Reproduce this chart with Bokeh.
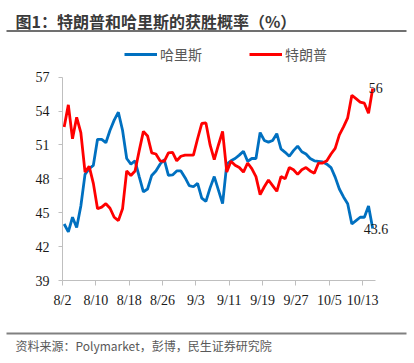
from bokeh.plotting import figure
from bokeh.models import Label, FixedTicker, Range1d, ColumnDataSource, Legend, LegendItem
from bokeh.layouts import column
from bokeh.core.properties import value
from bokeh.embed import file_html
from bokeh.resources import INLINE
import pandas as pd

# ---------------- data ----------------
dates = pd.date_range("2024-08-02", "2024-10-15", freq="D")

harris = [44.0, 43.3, 44.6, 43.7, 45.6, 48.4, 48.9, 49.2, 51.5, 51.5,
          51.2, 52.3, 53.2, 53.9, 52.3, 49.8, 49.3, 49.6, 48.2, 46.85,
          47.1, 48.3, 48.7, 49.3, 49.7, 48.3, 48.35, 48.7, 48.7, 48.1,
          47.4, 47.3, 47.6, 46.3, 46.0, 47.2, 48.2, 47.0, 45.8, 49.3,
          49.6, 49.8, 50.1, 50.45, 49.55, 49.8, 49.8, 52.1, 51.4, 51.25,
          51.4, 52.0, 50.65, 50.35, 50.0, 50.5, 50.9, 50.4, 50.2, 49.8,
          49.6, 49.55, 49.5, 49.3, 49.0, 48.15, 47.1, 46.4, 45.8, 44.0,
          44.3, 44.6, 44.6, 45.6, 43.6]

trump = [52.6, 54.55, 51.55, 53.45, 52.1, 48.6, 49.1, 47.6, 45.35, 45.5,
         45.8, 45.4, 44.6, 44.3, 45.35, 48.7, 48.3, 48.7, 50.5, 52.2,
         51.8, 50.3, 50.2, 49.6, 49.55, 50.3, 50.35, 49.6, 50.0, 50.1,
         50.1, 50.1, 51.55, 52.9, 52.95, 51.0, 49.7, 51.0, 52.2, 48.6,
         49.55, 49.2, 49.0, 48.6, 49.4, 48.9, 48.2, 46.6, 47.3, 47.9,
         47.4, 46.9, 48.2, 48.0, 49.0, 48.8, 48.4, 48.8, 49.0, 48.7,
         48.5, 49.4, 49.4, 49.6, 50.2, 50.7, 51.9, 52.6, 53.4, 55.4,
         55.1, 54.8, 54.7, 53.8, 56.0]

series_names = ["哈里斯", "特朗普"]
y_ticks = [39, 42, 45, 48, 51, 54, 57]
x_tick_step = 8
x_axis_days = 75          # axis runs 8/2 .. 10/17
title_text = "图1：特朗普和哈里斯的获胜概率（%）"
source_text = "资料来源：Polymarket，彭博，民生证券研究院"

# ---------------- style ----------------
BLUE = "#0070C0"
RED = "#FF0000"
GREY_TXT = "#595959"
SERIF = "Liberation Serif"
CJK = "Noto Sans CJK SC"
W = 414

PX_PER_DAY = 312.7 / 75
PX_PER_UNIT = 203.3 / 18


def deco_fig(h):
    f = figure(width=W, height=h, output_backend="svg", toolbar_location=None,
               x_range=Range1d(0, W), y_range=Range1d(h, 0),
               x_axis_type=None, y_axis_type=None,
               min_border_left=0, min_border_right=0,
               min_border_top=0, min_border_bottom=0)
    f.frame_align = False
    f.outline_line_color = None
    f.xgrid.visible = False
    f.ygrid.visible = False
    f.background_fill_color = "white"
    f.border_fill_color = "white"
    return f


# ---------------- header ----------------
HH = 38
head = deco_fig(HH)
head.text(x=[15], y=[20], text=[title_text], text_font=value(CJK),
          text_font_style="bold", text_font_size="16px", text_color="#3a3a3a",
          text_baseline="middle", text_align="left")
head.segment(x0=[6], y0=[30.5], x1=[406], y1=[30.5], line_color="#707070", line_width=2)

# ---------------- main chart ----------------
MH = 285
BL, BR, BT, BB = 62, 6, 0, 43
frame_w = W - BL - BR
frame_h = MH - BT - BB

day = [(d - dates[0]).days + 0.4 for d in dates]
src = ColumnDataSource(dict(x=day, harris=harris, trump=trump))

p = figure(width=W, height=MH, output_backend="svg", toolbar_location=None,
           x_range=Range1d(0, frame_w / PX_PER_DAY),
           y_range=Range1d(y_ticks[0], y_ticks[0] + frame_h / PX_PER_UNIT),
           min_border_left=BL, min_border_right=BR,
           min_border_top=BT, min_border_bottom=BB)
p.frame_align = False
p.background_fill_color = "white"
p.border_fill_color = "white"
p.outline_line_color = None
p.xgrid.visible = False
p.ygrid.visible = False

r_h = p.line("x", "harris", source=src, color=BLUE, line_width=2.8)
r_t = p.line("x", "trump", source=src, color=RED, line_width=2.8)

tick_pos = list(range(0, len(dates), x_tick_step))
p.xaxis.ticker = FixedTicker(ticks=tick_pos)
p.xaxis.major_label_overrides = {t: f"{dates[t].month}/{dates[t].day}" for t in tick_pos}
p.xaxis.bounds = (0, x_axis_days)
p.yaxis.ticker = FixedTicker(ticks=y_ticks)
p.yaxis.bounds = (y_ticks[0], y_ticks[-1])
for ax in (p.xaxis, p.yaxis):
    ax.axis_line_color = "#BFBFBF"
    ax.major_tick_line_color = "#BFBFBF"
    ax.minor_tick_line_color = None
    ax.major_tick_in = 0
    ax.major_label_text_font = SERIF
    ax.major_label_text_font_size = "14px"
    ax.major_label_text_color = "#1a1a1a"
p.xaxis.major_tick_out = 5
p.yaxis.major_tick_out = 4
p.xaxis.major_label_standoff = 7
p.yaxis.major_label_standoff = 9

# end-value labels
p.add_layout(Label(x=day[-1], y=trump[-1], text=f"{trump[-1]:g}", x_offset=-4,
                   text_baseline="middle", text_font=SERIF, text_font_size="14px",
                   text_color="#1a1a1a"))
p.add_layout(Label(x=day[-1], y=harris[-1], text=f"{harris[-1]:g}", x_offset=-9,
                   text_baseline="middle", text_font=SERIF, text_font_size="14px",
                   text_color="#1a1a1a"))

# legend: one box per series so each can be placed like the reference
LEG_Y = frame_h - 19 - 7
for name, rend, lx in ((series_names[0], r_h, 62), (series_names[1], r_t, 187)):
    p.add_layout(Legend(items=[LegendItem(label=name, renderers=[rend])],
                        location=(lx, LEG_Y), orientation="horizontal",
                        glyph_width=33, glyph_height=14, label_height=14,
                        label_standoff=3, padding=0, margin=0,
                        border_line_color=None, background_fill_alpha=0,
                        label_text_font=CJK, label_text_font_size="14px",
                        label_text_color=GREY_TXT, label_text_baseline="middle"))

# ---------------- footer ----------------
FH = 40
foot = deco_fig(FH)
foot.segment(x0=[6], y0=[10], x1=[406], y1=[10], line_color="#808080", line_width=2)
foot.text(x=[15], y=[22], text=[source_text], text_font=value(CJK),
          text_font_size="12px", text_color=GREY_TXT,
          text_baseline="middle", text_align="left")

layout = column(head, p, foot, spacing=0)
open("out.html", "w").write(file_html(layout, INLINE))
